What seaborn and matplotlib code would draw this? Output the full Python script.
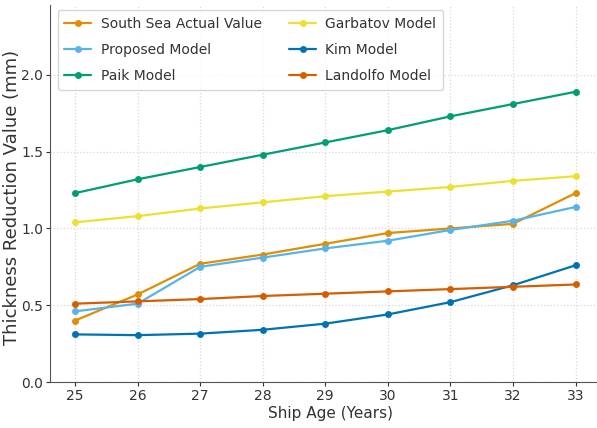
import numpy as np
import pandas as pd
import matplotlib
matplotlib.use("Agg")
import matplotlib.pyplot as plt
import seaborn as sns

# Data
ship_age = [25, 26, 27, 28, 29, 30, 31, 32, 33]
south_sea_actual = [0.40, 0.57, 0.77, 0.83, 0.90, 0.97, 1.00, 1.03, 1.23]
proposed_model = [0.46, 0.51, 0.75, 0.81, 0.87, 0.92, 0.99, 1.05, 1.14]
paik_model = [1.23, 1.32, 1.40, 1.48, 1.56, 1.64, 1.73, 1.81, 1.89]
garbatov_model = [1.04, 1.08, 1.13, 1.17, 1.21, 1.24, 1.27, 1.31, 1.34]
kim_model = [0.31, 0.305, 0.315, 0.34, 0.38, 0.44, 0.52, 0.63, 0.76]
landolfo_model = [0.51, 0.525, 0.54, 0.56, 0.575, 0.59, 0.605, 0.62, 0.635]

series_names = ["South Sea Actual Value", "Proposed Model", "Paik Model",
                "Garbatov Model", "Kim Model", "Landolfo Model"]
series_values = [south_sea_actual, proposed_model, paik_model,
                 garbatov_model, kim_model, landolfo_model]
colors = ["#DE8F05", "#56B4E9", "#029E73", "#ECE133", "#0173B2", "#D55E00"]

df = pd.DataFrame(
    [(age, name, v) for name, vals in zip(series_names, series_values)
     for age, v in zip(ship_age, vals)],
    columns=["age", "model", "value"],
)

sns.set_style("ticks")
plt.rcParams["font.family"] = ["DejaVu Sans"]

fig = plt.figure(figsize=(5.97, 4.28), dpi=100)
ax = fig.add_axes([50 / 597, 46 / 428, 560 / 597, 377 / 428])

sns.lineplot(data=df, x="age", y="value", hue="model", hue_order=series_names,
             palette=colors, marker="o", markersize=5, markeredgewidth=0,
             linewidth=1.6, ax=ax)

ax.set_xlim(24.6, 33.55)
ax.set_ylim(0, 2.455)
ax.set_xticks(ship_age)
ax.set_yticks([0.0, 0.5, 1.0, 1.5, 2.0])
ax.set_yticklabels(["0.0", "0.5", "1.0", "1.5", "2.0"])
ax.grid(True, linestyle=":", color="#d8d8d8", linewidth=0.9)
ax.tick_params(labelsize=10, colors="#333333", length=3, pad=2)
ax.set_xlabel("Ship Age (Years)", fontsize=11, color="#333333", labelpad=2)
ax.set_ylabel("Thickness Reduction Value (mm)", fontsize=13, color="#333333")
ax.yaxis.set_label_coords(-0.051, 0.49)
ax.spines["top"].set_visible(False)
ax.spines["right"].set_visible(False)
ax.spines["left"].set_color("#555555")
ax.spines["bottom"].set_color("#555555")

leg = ax.legend(ncol=2, loc="upper left", fontsize=10, frameon=True,
                bbox_to_anchor=(0.006, 0.997), borderaxespad=0.3,
                columnspacing=2.0, handlelength=1.9, handletextpad=0.7,
                labelspacing=0.85, borderpad=0.5)
for t in leg.get_texts():
    t.set_color("#333333")

fig.savefig("out.png", dpi=100)
